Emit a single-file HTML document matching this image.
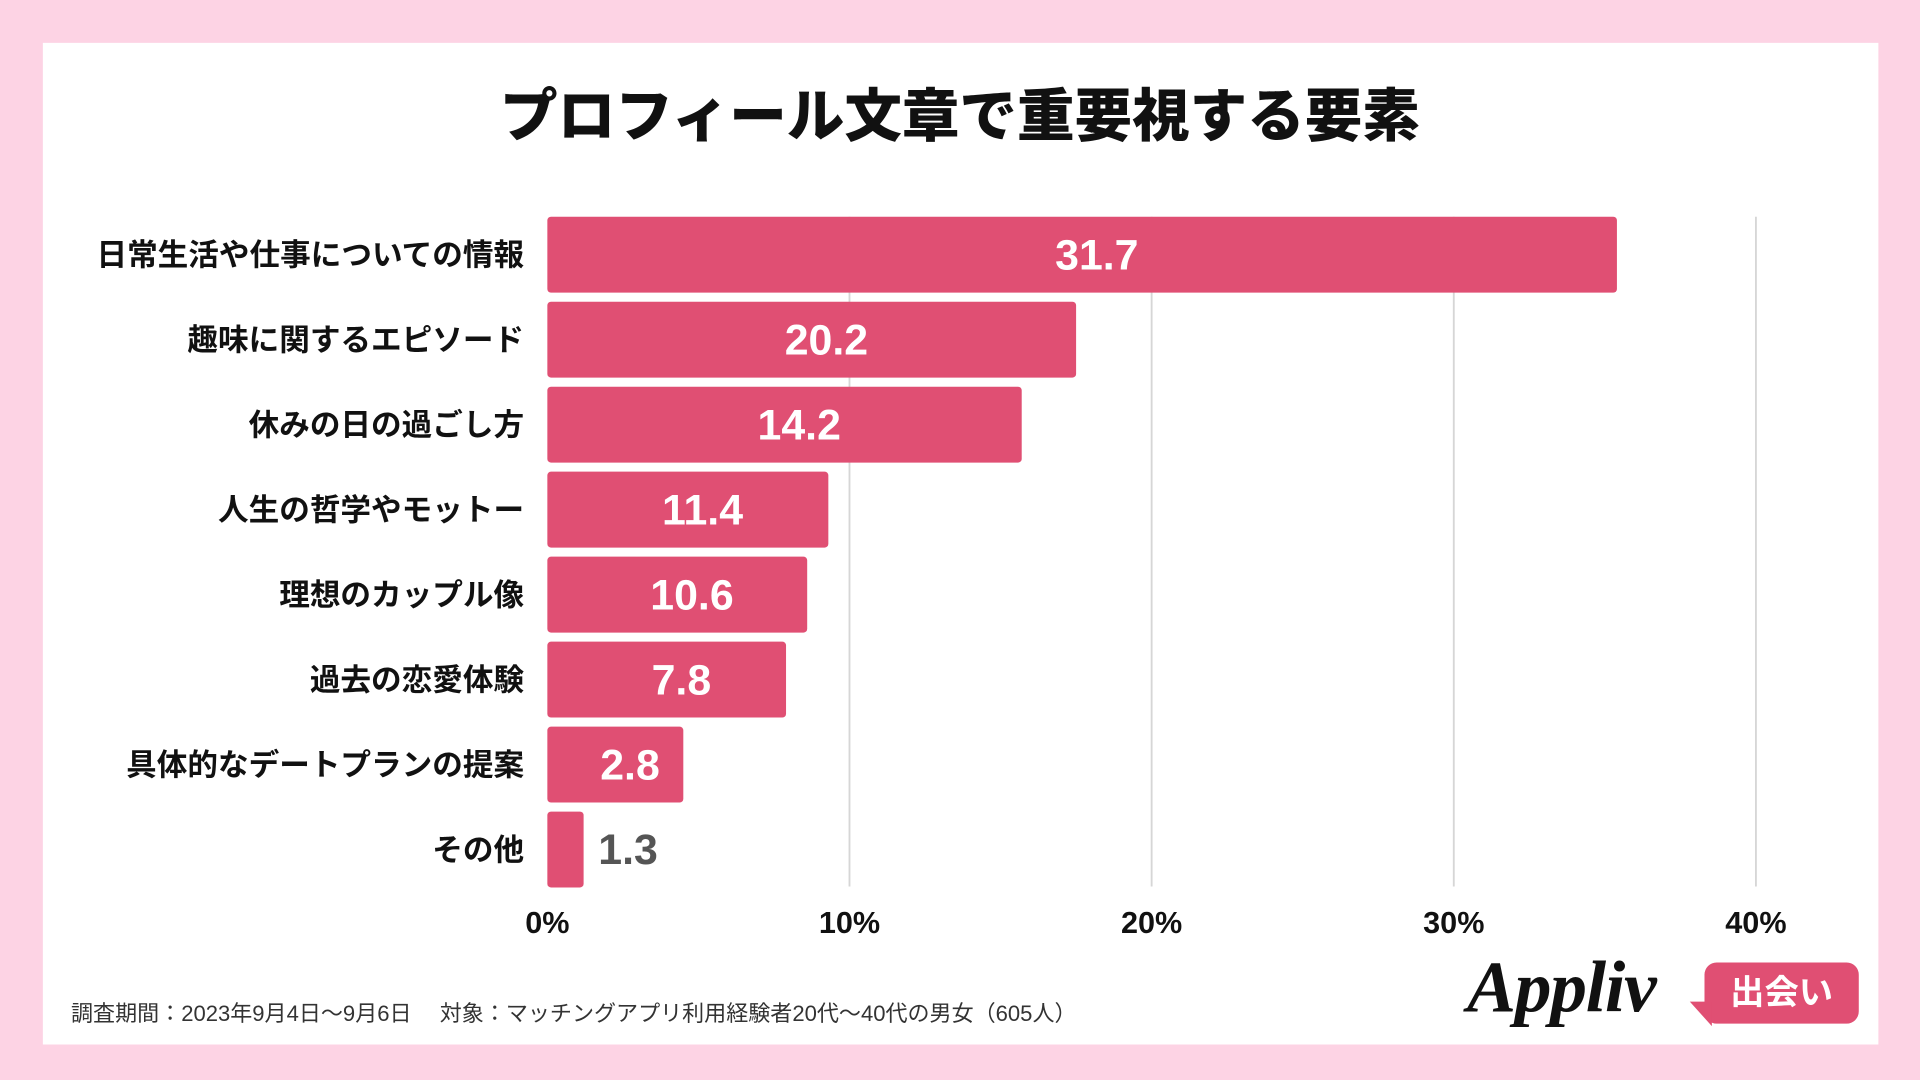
<!DOCTYPE html>
<html><head><meta charset="utf-8">
<style>
html,body{margin:0;padding:0;width:1920px;height:1080px;overflow:hidden;background:#fdd3e4;}
#wrap{position:absolute;left:0;top:0;width:1568px;height:882px;transform:scale(1.22449);transform-origin:0 0;font-family:"Liberation Sans","Noto Sans CJK JP",sans-serif;}
#panel{position:absolute;left:35px;top:35px;width:1499px;height:818px;background:#fff;}
#title{position:absolute;left:0;width:1568px;top:56px;text-align:center;font-size:47px;font-weight:900;color:#111;}
svg{position:absolute;left:0;top:0;}
#foot{position:absolute;left:58px;top:814px;font-size:18px;color:#333;}
</style></head><body>
<div id="wrap">
<div id="panel"></div>
<div id="title">プロフィール文章で重要視する要素</div>
<svg id="chart" width="1568" height="882"></svg>
<div id="foot">調査期間：2023年9月4日〜9月6日　 対象：マッチングアプリ利用経験者20代〜40代の男女（605人）</div>
<div style="position:absolute;left:1198px;top:772px;font-family:'Liberation Serif',serif;font-style:italic;font-weight:bold;font-size:60px;color:#111;letter-spacing:-1px;">Appliv</div>
<div style="position:absolute;left:1392px;top:786px;width:126px;height:50px;background:#e04f73;border-radius:10px;color:#fff;font-weight:bold;font-size:28px;text-align:center;line-height:50px;">出会い</div>
<div style="position:absolute;left:1380px;top:818px;width:0;height:0;border-top:20px solid #e04f73;border-left:18px solid transparent;"></div>
</div>
<script>
const categories=["日常生活や仕事についての情報","趣味に関するエピソード","休みの日の過ごし方","人生の哲学やモットー","理想のカップル像","過去の恋愛体験","具体的なデートプランの提案","その他"];
const barValues=[35.4,17.5,15.7,9.3,8.6,7.9,4.5,1.2];
const valueLabels=["31.7","20.2","14.2","11.4","10.6","7.8","2.8","1.3"];
const ticks=[0,10,20,30,40];
const tickLabels=["0%","10%","20%","30%","40%"];
const NS="http://www.w3.org/2000/svg";
const svg=document.getElementById('chart');
const x0=447,pxPer=24.675,top0=177,pitch=69.4,bh=62,bottom=724;
const xs=v=>x0+v*pxPer;
function mk(t,a){const e=document.createElementNS(NS,t);for(const k in a)e.setAttribute(k,a[k]);svg.appendChild(e);return e;}
ticks.forEach((t,i)=>{
 if(i>0){const l=mk('line',{x1:xs(t),x2:xs(t),y1:top0,y2:bottom,stroke:'#d6d6d6','stroke-width':1.5});
 
 }
 const tx=mk('text',{x:xs(t),y:762,'text-anchor':'middle','font-size':25,'font-weight':'bold',fill:'#111'});
 tx.textContent=tickLabels[i];
 
 
});
categories.forEach((c,i)=>{
 const y=top0+i*pitch;
 const w=xs(barValues[i])-x0;
 const r=mk('rect',{x:x0,y:y,width:w,height:bh,rx:3,fill:'#e04f73'});
 
 
 const lb=mk('text',{x:428,y:y+bh/2+9,'text-anchor':'end','font-size':25,'font-weight':'bold',fill:'#111'});
 lb.textContent=c;
 
 
 const inside=w>60;
 const vt=mk('text',{x:inside?x0+w/2+12:x0+w+12,y:y+bh/2+12,'text-anchor':inside?'middle':'start','font-size':35,'font-weight':'bold',fill:inside?'#fff':'#555'});
 vt.textContent=valueLabels[i];
 
 
});
</script>
</body></html>
